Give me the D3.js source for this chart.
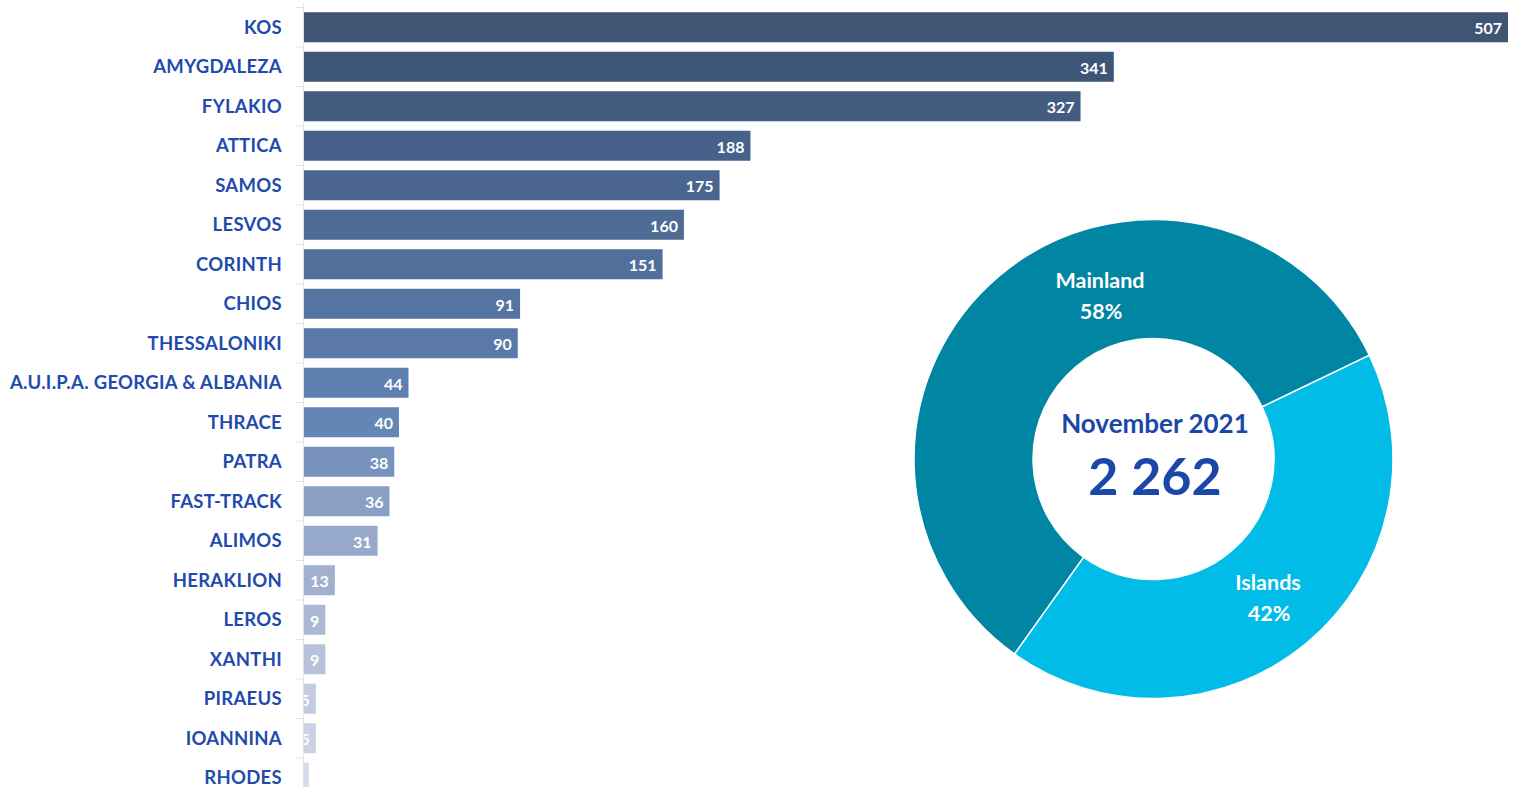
<!DOCTYPE html>
<html><head><meta charset="utf-8">
<script src="https://cdn.jsdelivr.net/npm/d3@7"></script>
<style>html,body{margin:0;padding:0;background:#fff;}svg{display:block;}</style>
</head><body>
<svg id="chart" width="1520" height="787"></svg>
<script>
const categories = ["KOS","AMYGDALEZA","FYLAKIO","ATTICA","SAMOS","LESVOS","CORINTH","CHIOS","THESSALONIKI","A.U.I.P.A. GEORGIA & ALBANIA","THRACE","PATRA","FAST-TRACK","ALIMOS","HERAKLION","LEROS","XANTHI","PIRAEUS","IOANNINA","RHODES"];
const values = [507,341,327,188,175,160,151,91,90,44,40,38,36,31,13,9,9,5,5,2];
const barColors = ["#3E5573","#3E5676","#435D80","#46628A","#4A6690","#4E6B96","#526F9C","#5674A2","#5A79A8","#5F7FAE","#6386B6","#7792BD","#899FC3","#97A9CB","#A2B0CF","#ABB8D4","#B8C3DB","#C2CBE0","#CBD2E4","#D5DBEA"];
const pieLabels = ["Islands","Mainland"];
const pieValues = [42,58];
const piePercents = ["42%","58%"];
const pieColors = ["#00BCE6","#0086A3"];
const centerTitle = "November 2021";
const centerTotal = "2 262";

const svg = d3.select("#chart");
const font = "Lato, 'Open Sans', sans-serif";

// Bar chart
const x = d3.scaleLinear().domain([0, 507]).range([304, 1508]);
const y = d3.scaleBand().domain(categories).range([7.5, 797.5]).paddingInner(0.24).paddingOuter(0.12);

const axisG = svg.append("g");
axisG.append("line").attr("x1",303.5).attr("x2",303.5).attr("y1",3).attr("y2",787).attr("stroke","#E3E3E3");
const step = y.step();
categories.forEach((c,i)=>{
  const yy = y(c) - (step - y.bandwidth())/2;
  axisG.append("line").attr("x1",296).attr("x2",303.5).attr("y1",yy).attr("y2",yy).attr("stroke","#E3E3E3");
});

const defs = svg.append("defs");
const bars = svg.append("g");
categories.forEach((c,i)=>{
  const bx = x(0), bw = x(values[i]) - x(0), by = y(c), bh = y.bandwidth();
  defs.append("clipPath").attr("id","clip"+i).append("rect").attr("x",bx).attr("y",by).attr("width",bw).attr("height",bh);
  bars.append("rect").attr("x",bx).attr("y",by).attr("width",bw).attr("height",bh).attr("fill",barColors[i]);
  if (values[i] > 2) {
    bars.append("text").attr("clip-path","url(#clip"+i+")")
      .attr("x", x(values[i]) - 6).attr("y", by + bh/2 + 1).attr("dy","0.36em")
      .attr("text-anchor","end").attr("fill","#fff").attr("font-family",font)
      .attr("font-weight","700").attr("font-size","16px").text(values[i]);
  }
  svg.append("text").attr("x",282).attr("y",by+bh/2).attr("dy","0.36em")
    .attr("text-anchor","end").attr("fill","#1F4BAF").attr("font-family",font)
    .attr("font-weight","700").attr("font-size","18.5px").attr("letter-spacing","0.3px").text(c);
});

// Donut
const cx = 1153.5, cy = 459;
const pie = d3.pie().sort(null).startAngle(64.3*Math.PI/180).endAngle((64.3+360)*Math.PI/180);
const arcs = pie(pieValues);
const arc = d3.arc().innerRadius(120.5).outerRadius(239.5);
const g = svg.append("g").attr("transform",`translate(${cx},${cy})`);
g.selectAll("path").data(arcs).join("path").attr("d",arc)
  .attr("fill",(d,i)=>pieColors[i]).attr("stroke","#fff").attr("stroke-width",1.5);

const labelPos = [[1268,582],[1100,280]];
pieLabels.forEach((l,i)=>{
  svg.append("text").attr("x",labelPos[i][0]).attr("y",labelPos[i][1]).attr("dy","0.36em")
    .attr("text-anchor","middle").attr("fill","#fff").attr("font-family",font)
    .attr("font-weight","700").attr("font-size","21.5px").text(l);
  svg.append("text").attr("x",labelPos[i][0]+1).attr("y",labelPos[i][1]+31).attr("dy","0.36em")
    .attr("text-anchor","middle").attr("fill","#fff").attr("font-family",font)
    .attr("font-weight","700").attr("font-size","21.5px").text(piePercents[i]);
});

svg.append("text").attr("x",1155).attr("y",424).attr("dy","0.36em").attr("text-anchor","middle")
  .attr("fill","#1A47A8").attr("font-family",font).attr("font-weight","700").attr("font-size","26px").text(centerTitle);
svg.append("text").attr("x",1155).attr("y",476).attr("dy","0.36em").attr("text-anchor","middle")
  .attr("fill","#1A47A8").attr("font-family",font).attr("font-weight","700").attr("font-size","52px").text(centerTotal);
</script>
</body></html>
